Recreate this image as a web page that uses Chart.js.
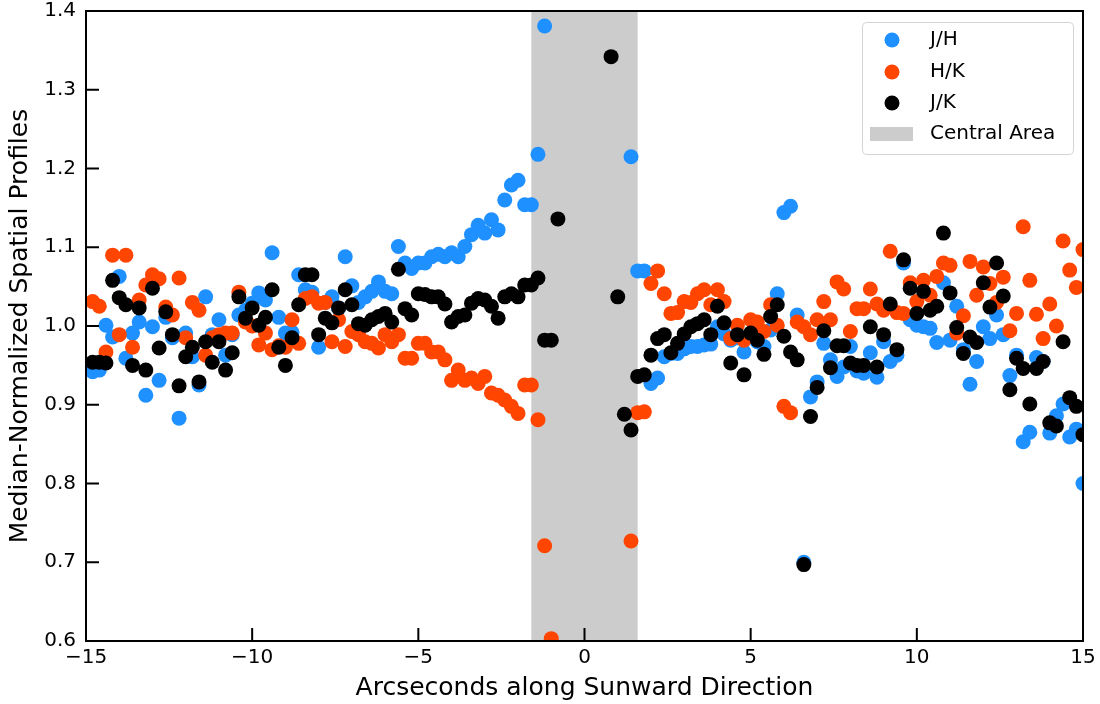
<!DOCTYPE html>
<html>
<head>
<meta charset="utf-8">
<script src="https://cdn.jsdelivr.net/npm/chart.js@4.4.1/dist/chart.umd.min.js"></script>
<style>
    body { margin: 0; background: #fff; }
    .wrap { width: 1100px; height: 704px; }
</style>
</head>
<body>
<div class="wrap"><canvas id="profiles"></canvas></div>
<script>
// Positions along the slit (arcsec)
const offsets = [
    -15, -14.8, -14.6, -14.4, -14.2, -14, -13.8, -13.6, -13.4, -13.2,
    -13, -12.8, -12.6, -12.4, -12.2, -12, -11.8, -11.6, -11.4, -11.2,
    -11, -10.8, -10.6, -10.4, -10.2, -10, -9.8, -9.6, -9.4, -9.2,
    -9, -8.8, -8.6, -8.4, -8.2, -8, -7.8, -7.6, -7.4, -7.2,
    -7, -6.8, -6.6, -6.4, -6.2, -6, -5.8, -5.6, -5.4, -5.2,
    -5, -4.8, -4.6, -4.4, -4.2, -4, -3.8, -3.6, -3.4, -3.2,
    -3, -2.8, -2.6, -2.4, -2.2, -2, -1.8, -1.6, -1.4, -1.2,
    -1, -0.8, -0.6, -0.4, -0.2, 0, 0.2, 0.4, 0.6, 0.8,
    1, 1.2, 1.4, 1.6, 1.8, 2, 2.2, 2.4, 2.6, 2.8,
    3, 3.2, 3.4, 3.6, 3.8, 4, 4.2, 4.4, 4.6, 4.8,
    5, 5.2, 5.4, 5.6, 5.8, 6, 6.2, 6.4, 6.6, 6.8,
    7, 7.2, 7.4, 7.6, 7.8, 8, 8.2, 8.4, 8.6, 8.8,
    9, 9.2, 9.4, 9.6, 9.8, 10, 10.2, 10.4, 10.6, 10.8,
    11, 11.2, 11.4, 11.6, 11.8, 12, 12.2, 12.4, 12.6, 12.8,
    13, 13.2, 13.4, 13.6, 13.8, 14, 14.2, 14.4, 14.6, 14.8,
    15
];

// J/H ratio
const ratioJH = [
    null, 0.942, 0.944, 1.001, 0.986, 1.063, 0.959, 0.991, 1.005, 0.912,
    0.999, 0.931, 1.011, 0.985, 0.883, 0.991, 0.961, 0.925, 1.037, 0.989,
    1.008, 0.963, 0.989, 1.014, 1.020, 1.029, 1.042, 1.033, 1.093, 1.011,
    0.991, 0.992, 1.065, 1.046, 1.043, 0.973, 1.030, 1.037, 1.023, 1.088,
    1.051, 1.030, 1.037, 1.044, 1.056, 1.044, 1.041, 1.101, 1.080, 1.073,
    1.080, 1.080, 1.088, 1.091, 1.088, 1.093, 1.088, 1.101, 1.116, 1.128,
    1.118, 1.135, 1.122, 1.160, 1.179, 1.185, 1.154, 1.154, 1.218, 1.381,
    null, null, null, null, null, null, null, null, null, null,
    null, null, 1.215, 1.070, 1.070, 0.927, 0.934, 0.961, 0.965, 0.965,
    0.971, 0.974, 0.974, 0.976, 0.977, 0.999, 0.990, 0.982, 0.985, 0.967,
    0.990, 0.980, 0.974, 0.995, 1.041, 1.144, 1.152, 1.014, 0.700, 0.910,
    0.929, 0.978, 0.957, 0.936, 0.948, 0.974, 0.943, 0.940, 0.966, 0.935,
    0.980, 0.955, 0.963, 1.080, 1.008, 1.001, 0.999, 0.997, 0.979, 1.055,
    0.982, 1.025, 0.970, 0.926, 0.955, 0.999, 0.984, 1.014, 0.989, 0.937,
    0.963, 0.853, 0.865, 0.960, 0.955, 0.864, 0.886, 0.901, 0.859, 0.869,
    0.800
];

// H/K ratio
const ratioHK = [
    null, 1.031, 1.025, 0.967, 1.090, 0.989, 1.090, 0.973, 1.033, 1.052,
    1.065, 1.060, 1.024, 1.014, 1.061, 0.985, 1.030, 1.020, 0.963, 0.985,
    0.989, 0.991, 0.991, 1.043, 1.005, 1.000, 0.976, 0.991, 0.970, 0.975,
    0.973, 1.008, 0.978, 1.035, 1.037, 1.029, 1.030, 0.980, 1.008, 0.974,
    0.993, 0.989, 0.980, 0.978, 0.972, 0.989, 0.980, 0.989, 0.959, 0.959,
    0.978, 0.978, 0.967, 0.967, 0.957, 0.931, 0.944, 0.931, 0.934, 0.927,
    0.936, 0.915, 0.912, 0.906, 0.898, 0.889, 0.925, 0.925, 0.881, 0.721,
    0.603, null, null, null, null, null, null, null, null, null,
    null, null, 0.727, 0.890, 0.891, 1.054, 1.070, 1.041, 1.016, 1.017,
    1.031, 1.030, 1.041, 1.046, 1.027, 1.046, 1.031, 0.984, 1.001, 0.982,
    1.008, 1.005, 0.993, 1.027, 1.001, 0.898, 0.890, 1.005, 0.999, 0.989,
    1.008, 1.031, 1.008, 1.056, 1.047, 0.993, 1.022, 1.022, 1.047, 1.028,
    1.020, 1.095, 1.017, 1.016, 1.055, 1.031, 1.058, 1.039, 1.063, 1.080,
    1.077, 0.991, 1.013, 1.082, 1.039, 1.075, 1.054, 1.030, 1.062, 0.994,
    1.016, 1.126, 1.058, 1.015, 0.984, 1.028, 1.000, 1.108, 1.071, 1.049,
    1.097
];

// J/K ratio
const ratioJK = [
    null, 0.954, 0.954, 0.953, 1.058, 1.036, 1.027, 0.950, 1.023, 0.944,
    1.048, 0.972, 1.018, 0.989, 0.924, 0.961, 0.973, 0.929, 0.980, 0.954,
    0.980, 0.944, 0.966, 1.037, 1.010, 1.023, 1.001, 1.011, 1.046, 0.973,
    0.950, 0.985, 1.027, 1.065, 1.065, 0.989, 1.010, 1.004, 1.023, 1.046,
    1.027, 1.003, 1.001, 1.008, 1.012, 1.016, 1.005, 1.072, 1.022, 1.014,
    1.041, 1.040, 1.037, 1.037, 1.028, 1.005, 1.012, 1.014, 1.029, 1.035,
    1.033, 1.025, 1.010, 1.037, 1.041, 1.037, 1.052, 1.052, 1.061, 0.982,
    0.982, 1.136, null, null, null, null, null, null, null, 1.342,
    1.037, 0.888, 0.868, 0.936, 0.938, 0.963, 0.984, 0.989, 0.966, 0.978,
    0.990, 0.999, 1.003, 1.008, 0.989, 1.025, 1.004, 0.953, 0.989, 0.938,
    0.991, 0.982, 0.964, 1.012, 1.027, 0.987, 0.967, 0.957, 0.697, 0.885,
    0.922, 0.994, 0.947, 0.975, 0.975, 0.953, 0.950, 0.950, 0.999, 0.948,
    0.989, 1.028, 0.970, 1.084, 1.048, 1.016, 1.044, 1.020, 1.025, 1.118,
    1.042, 0.998, 0.965, 0.986, 0.979, 1.055, 1.024, 1.080, 1.038, 0.919,
    0.959, 0.946, 0.901, 0.946, 0.955, 0.877, 0.873, 0.980, 0.909, 0.898,
    0.862
];

// Central area limits (arcsec)
const centralFrom = -1.6;
const centralTo = 1.6;

const seriesNames = ['J/H', 'H/K', 'J/K'];
const seriesColors = ['#1e90ff', '#ff4500', '#000000'];
const bandColor = '#cccccc';
const fontFamily = "'DejaVu Sans', sans-serif";

const toPoints = (ys) => offsets
    .map((x, i) => ({ x: x, y: ys[i] }))
    .filter(p => p.y !== null);

// grey band behind the points
const bandPlugin = {
    id: 'band',
    beforeDatasetsDraw(chart) {
        const { ctx, chartArea, scales } = chart;
        const x1 = scales.x.getPixelForValue(centralFrom);
        const x2 = scales.x.getPixelForValue(centralTo);
        ctx.save();
        ctx.fillStyle = bandColor;
        ctx.fillRect(x1, chartArea.top, x2 - x1, chartArea.bottom - chartArea.top);
        ctx.restore();
    }
};

// frame, inward ticks and legend
const framePlugin = {
    id: 'frame',
    afterDatasetsDraw(chart) {
        const { ctx, chartArea, scales } = chart;
        const { left, right, top, bottom } = chartArea;
        ctx.save();
        ctx.strokeStyle = '#000';
        ctx.lineWidth = 2;
        ctx.strokeRect(left, top, right - left, bottom - top);

        const tickLen = 13;
        ctx.beginPath();
        scales.x.ticks.forEach(t => {
            const px = scales.x.getPixelForValue(t.value);
            ctx.moveTo(px, bottom);
            ctx.lineTo(px, bottom - tickLen);
        });
        scales.y.ticks.forEach(t => {
            const py = scales.y.getPixelForValue(t.value);
            ctx.moveTo(left, py);
            ctx.lineTo(left + tickLen, py);
        });
        ctx.stroke();

        // legend box
        const bx = right - 221, by = top + 11, bw = 211, bh = 132;
        ctx.fillStyle = 'rgba(255,255,255,0.8)';
        ctx.strokeStyle = '#d4d4d4';
        ctx.lineWidth = 1;
        ctx.beginPath();
        ctx.roundRect(bx + 0.5, by + 0.5, bw, bh, 4);
        ctx.fill();
        ctx.stroke();

        ctx.font = '20px ' + fontFamily;
        ctx.textBaseline = 'middle';
        ctx.textAlign = 'left';
        const rowY = [by + 18, by + 50, by + 81, by + 112];
        seriesNames.forEach((name, i) => {
            ctx.fillStyle = seriesColors[i];
            ctx.beginPath();
            ctx.arc(bx + 30, rowY[i], 7.5, 0, Math.PI * 2);
            ctx.fill();
            ctx.fillStyle = '#000';
            ctx.fillText(name, bx + 68, rowY[i]);
        });
        ctx.fillStyle = bandColor;
        ctx.fillRect(bx + 8, rowY[3] - 7, 43, 14);
        ctx.fillStyle = '#000';
        ctx.fillText('Central Area', bx + 68, rowY[3]);
        ctx.restore();
    }
};

const minus = (v) => v < 0 ? '\u2212' + Math.abs(v) : String(v);

const ctxProfiles = document.getElementById('profiles');

new Chart(ctxProfiles, {
    type: 'scatter',
    data: {
        datasets: [
            { label: seriesNames[0], data: toPoints(ratioJH), backgroundColor: seriesColors[0], order: 3 },
            { label: seriesNames[1], data: toPoints(ratioHK), backgroundColor: seriesColors[1], order: 2 },
            { label: seriesNames[2], data: toPoints(ratioJK), backgroundColor: seriesColors[2], order: 1 }
        ].map(d => Object.assign(d, {
            pointRadius: 7.5,
            pointHoverRadius: 7.5,
            borderWidth: 0,
            clip: 0
        }))
    },
    options: {
        responsive: true,
        maintainAspectRatio: false,
        animation: false,
        events: [],
        layout: { padding: { top: 11, right: 17, left: 0, bottom: 0 } },
        plugins: {
            legend: { display: false },
            tooltip: { enabled: false }
        },
        scales: {
            x: {
                type: 'linear',
                min: -15,
                max: 15,
                grid: { display: false, drawTicks: false },
                border: { display: false },
                ticks: {
                    stepSize: 5,
                    padding: 5,
                    color: '#000',
                    font: { family: fontFamily, size: 20 },
                    callback: (v) => minus(v)
                },
                title: {
                    display: true,
                    text: 'Arcseconds along Sunward Direction',
                    color: '#000',
                    font: { family: fontFamily, size: 25 },
                    padding: { top: 0, bottom: 1 }
                },
                afterFit: (s) => {
                    s.height = 63;
                    s.paddingLeft = 0;
                    s.paddingRight = 0;
                }
            },
            y: {
                min: 0.6,
                max: 1.4,
                grid: { display: false, drawTicks: false },
                border: { display: false },
                ticks: {
                    stepSize: 0.1,
                    padding: 10,
                    color: '#000',
                    font: { family: fontFamily, size: 20 },
                    callback: (v) => v.toFixed(1)
                },
                title: {
                    display: true,
                    text: 'Median-Normalized Spatial Profiles',
                    color: '#000',
                    font: { family: fontFamily, size: 25 },
                    padding: { top: 5, bottom: 0 }
                },
                afterFit: (s) => {
                    s.width = 86;
                    s.paddingTop = 0;
                    s.paddingBottom = 0;
                }
            }
        }
    },
    plugins: [bandPlugin, framePlugin]
});
</script>
</body>
</html>
